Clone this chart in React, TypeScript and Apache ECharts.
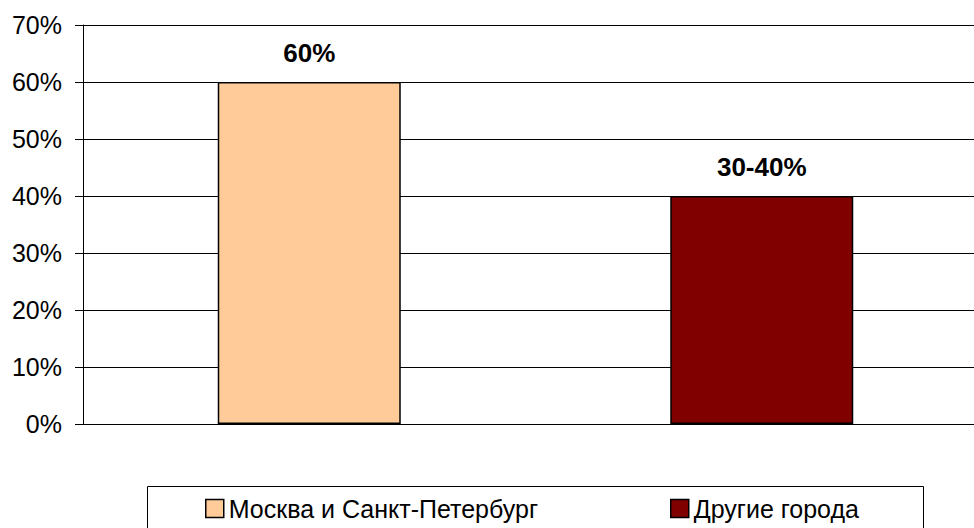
import React, { useEffect, useRef } from "react";
import * as echarts from "echarts";

const categories = ["Москва и Санкт-Петербург", "Другие города"];
const seriesNames = ["Москва и Санкт-Петербург", "Другие города"];
const values = [60, 40];
const valueLabels = ["60%", "30-40%"];
const colors = ["#FFCC99", "#800000"];
const yTicks = { min: 0, max: 70, interval: 10 };

export default function App() {
  const ref = useRef<HTMLDivElement>(null);
  useEffect(() => {
    document.body.style.margin = "0";
    const chart = echarts.init(ref.current!, null, { renderer: "svg" });
    const font = "Arial, 'Liberation Sans', sans-serif";
    const legendLefts = [205, 670];
    chart.setOption({
      animation: false,
      textStyle: { fontFamily: font },
      grid: { left: 83, top: 25, right: -14, bottom: 104, containLabel: false, outerBoundsMode: "none" },
      xAxis: {
        type: "category",
        data: categories,
        axisLine: { show: true, lineStyle: { color: "#000", width: 1 } },
        axisTick: { show: false },
        axisLabel: { show: false },
        splitLine: { show: false },
      },
      yAxis: {
        type: "value",
        min: yTicks.min,
        max: yTicks.max,
        interval: yTicks.interval,
        axisLine: { show: true, lineStyle: { color: "#000", width: 1 } },
        axisTick: { show: true, length: 8, lineStyle: { color: "#000" } },
        axisLabel: { formatter: "{value}%", fontSize: 25, color: "#000", margin: 21, fontFamily: font },
        splitLine: { show: true, lineStyle: { color: "#000", width: 1 } },
      },
      legend: seriesNames.map((name, i) => ({
        left: legendLefts[i],
        top: 496,
        padding: 0,
        itemWidth: 18,
        itemHeight: 18,
        icon: "rect",
        itemStyle: { borderColor: "#000", borderWidth: 1.5 },
        textStyle: { fontSize: 25, color: "#000", fontFamily: font },
        data: [name],
      })),
      graphic: [
        {
          type: "rect",
          shape: { x: 147.5, y: 486.5, width: 776, height: 80 },
          style: { fill: "none", stroke: "#000", lineWidth: 1 },
          silent: true,
          z: -1,
        },
      ],
      series: seriesNames.map((name, i) => ({
        name,
        type: "bar",
        barWidth: 183,
        barGap: "-100%",
        data: values.map((v, j) => (j === i ? v : "-")),
        itemStyle: { color: colors[i], borderColor: "#000", borderWidth: 1.5 },
        label: {
          show: true,
          position: "top",
          distance: 16,
          formatter: () => valueLabels[i],
          fontSize: 26,
          fontWeight: "bold",
          color: "#000",
          fontFamily: font,
        },
      })),
    });
    return () => chart.dispose();
  }, []);
  return <div ref={ref} style={{ width: 974, height: 528 }} />;
}
